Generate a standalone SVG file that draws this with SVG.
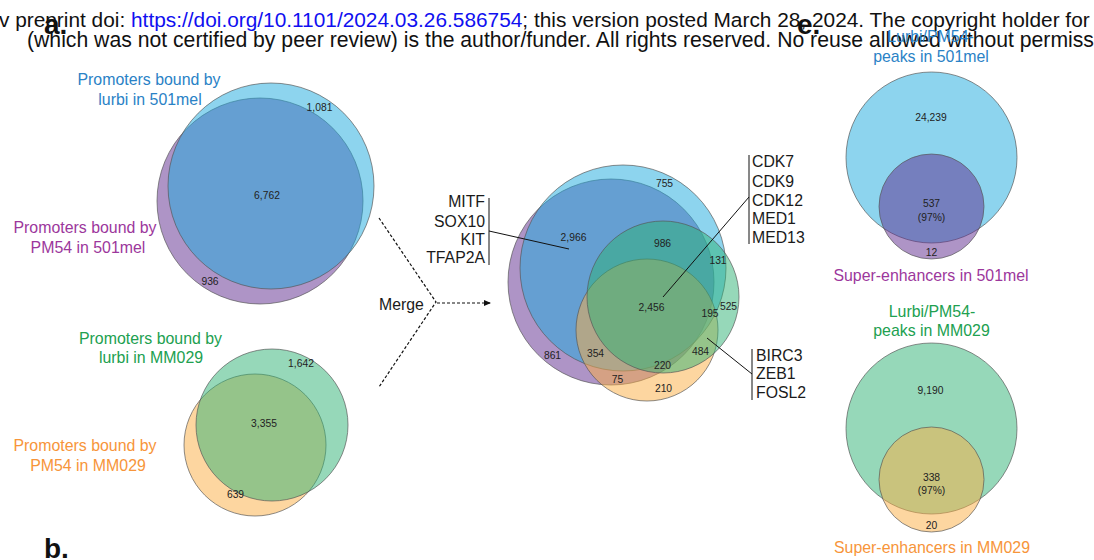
<svg xmlns="http://www.w3.org/2000/svg" width="1094" height="560" viewBox="0 0 1094 560">
  <style>
    .hdr { font-family: "Liberation Sans", Arial, sans-serif; font-size: 21px; fill: #111; }
    .link { fill: #1010f0; }
    .panel { font-family: "Liberation Sans", Arial, sans-serif; font-size: 28px; font-weight: bold; fill: #111; }
    .lbl { font-family: "Liberation Sans", Arial, sans-serif; font-size: 15.9px; text-anchor: middle; }
    .gene { font-family: "Liberation Sans", Arial, sans-serif; font-size: 15.8px; fill: #1a1a1a; }
    .num { font-family: "Liberation Sans", Arial, sans-serif; font-size: 10.3px; fill: #222; text-anchor: middle; }
    .c-blue { fill: #2a82c6; }
    .c-purple { fill: #9c379c; }
    .c-green { fill: #21a050; }
    .c-orange { fill: #f7953a; }
    .set { fill-opacity: 0.5; stroke: #555; stroke-opacity: 0.75; stroke-width: 0.9; }
    .s-blue { fill: #1ba9dd; }
    .s-purple { fill: #5d298d; }
    .s-green { fill: #2db173; }
    .s-orange { fill: #fbad41; }
    .lead { stroke: #111; stroke-width: 1; fill: none; }
    .dash { stroke: #111; stroke-width: 1.2; fill: none; stroke-dasharray: 3 2; }
  </style>
  <defs>
    <marker id="arrowhead" markerWidth="8" markerHeight="8" refX="7" refY="4" orient="auto" markerUnits="userSpaceOnUse">
      <path d="M0,1 L7,4 L0,7 Z" fill="#111"/>
    </marker>
  </defs>

  <rect width="1094" height="560" fill="#ffffff"/>

  <!-- preprint watermark header -->
  <g id="header">
    <text class="hdr" x="-59" y="26.5" style="font-size:20.85px">bioRxiv preprint doi: <tspan class="link">https://doi.org/10.1101/2024.03.26.586754</tspan>; this version posted March 28, 2024. The copyright holder for this preprint</text>
    <text class="hdr" x="27" y="47" style="font-size:21.2px">(which was not certified by peer review) is the author/funder. All rights reserved. No reuse allowed without permission.</text>
  </g>

  <!-- panel letters -->
  <text class="panel" x="44" y="33.5">a.</text>
  <text class="panel" x="797" y="33.5">e.</text>
  <text class="panel" x="44" y="558">b.</text>

  <!-- 501mel promoters -->
  <g id="venn-501mel-promoters">
    <circle class="set s-purple" cx="260" cy="201" r="103"/>
    <circle class="set s-blue" cx="271" cy="186" r="103"/>
    <text class="num" x="319.5" y="111">1,081</text>
    <text class="num" x="267" y="199">6,762</text>
    <text class="num" x="210" y="285">936</text>
    <text class="lbl c-blue" x="149" y="85">Promoters bound by</text>
    <text class="lbl c-blue" x="150" y="105">lurbi in 501mel</text>
    <text class="lbl c-purple" x="85" y="233">Promoters bound by</text>
    <text class="lbl c-purple" x="88" y="253">PM54 in 501mel</text>
  </g>

  <!-- MM029 promoters -->
  <g id="venn-mm029-promoters">
    <circle class="set s-orange" cx="255" cy="445" r="71"/>
    <circle class="set s-green" cx="272" cy="425" r="76"/>
    <text class="num" x="301" y="367">1,642</text>
    <text class="num" x="264" y="427">3,355</text>
    <text class="num" x="235.5" y="498">639</text>
    <text class="lbl c-green" x="150.5" y="344">Promoters bound by</text>
    <text class="lbl c-green" x="151" y="363">lurbi in MM029</text>
    <text class="lbl c-orange" x="85" y="451">Promoters bound by</text>
    <text class="lbl c-orange" x="88" y="471">PM54 in MM029</text>
  </g>

  <!-- merged four-set promoters -->
  <g id="venn-merged">
    <circle class="set s-purple" cx="611" cy="282" r="103"/>
    <circle class="set s-blue" cx="623" cy="268" r="103"/>
    <circle class="set s-orange" cx="647" cy="330" r="71"/>
    <circle class="set s-green" cx="663" cy="297" r="76"/>
    <text class="num" x="664.5" y="187">755</text>
    <text class="num" x="573.5" y="241">2,966</text>
    <text class="num" x="662.5" y="247">986</text>
    <text class="num" x="718" y="264">131</text>
    <text class="num" x="728.5" y="310">525</text>
    <text class="num" x="651.5" y="311">2,456</text>
    <text class="num" x="710" y="317">195</text>
    <text class="num" x="700.5" y="355">484</text>
    <text class="num" x="552.5" y="359">861</text>
    <text class="num" x="595.5" y="357">354</text>
    <text class="num" x="662.5" y="369">220</text>
    <text class="num" x="617.5" y="383">75</text>
    <text class="num" x="663.5" y="392">210</text>
  </g>

  <!-- gene call-outs -->
  <g id="genes-left">
    <text class="gene" x="485" y="207" text-anchor="end">MITF</text>
    <text class="gene" x="485" y="227" text-anchor="end">SOX10</text>
    <text class="gene" x="485" y="245" text-anchor="end">KIT</text>
    <text class="gene" x="485" y="263" text-anchor="end">TFAP2A</text>
  </g>
  <g id="genes-top-right">
    <text class="gene" x="752" y="167">CDK7</text>
    <text class="gene" x="752" y="187">CDK9</text>
    <text class="gene" x="752" y="206">CDK12</text>
    <text class="gene" x="752" y="224">MED1</text>
    <text class="gene" x="752" y="243">MED13</text>
  </g>
  <g id="genes-bottom-right">
    <text class="gene" x="756" y="361">BIRC3</text>
    <text class="gene" x="756" y="379">ZEB1</text>
    <text class="gene" x="756" y="398">FOSL2</text>
  </g>

  <!-- merge step -->
  <g id="merge">
    <text class="gene" x="379" y="310">Merge</text>
  </g>

  <!-- 501mel peaks vs super-enhancers -->
  <g id="venn-501mel-se">
    <circle class="set s-blue" cx="931.5" cy="157.5" r="85.5"/>
    <circle class="set s-purple" cx="931.5" cy="206.5" r="52.5"/>
    <text class="num" x="931" y="121">24,239</text>
    <text class="num" x="931.5" y="207">537</text>
    <text class="num" x="931.5" y="221">(97%)</text>
    <text class="num" x="931.5" y="256">12</text>
    <text class="lbl c-blue" x="930.5" y="42">Lurbi/PM54-</text>
    <text class="lbl c-blue" x="931" y="62">peaks in 501mel</text>
    <text class="lbl c-purple" x="931" y="281">Super-enhancers in 501mel</text>
  </g>

  <!-- MM029 peaks vs super-enhancers -->
  <g id="venn-mm029-se">
    <circle class="set s-green" cx="931.5" cy="428.5" r="85.5"/>
    <circle class="set s-orange" cx="931.5" cy="479.5" r="52.5"/>
    <text class="num" x="930.5" y="394">9,190</text>
    <text class="num" x="931.5" y="481">338</text>
    <text class="num" x="931.5" y="494">(97%)</text>
    <text class="num" x="931.5" y="529">20</text>
    <text class="lbl c-green" x="932" y="317">Lurbi/PM54-</text>
    <text class="lbl c-green" x="931.5" y="336">peaks in MM029</text>
    <text class="lbl c-orange" x="932" y="553">Super-enhancers in MM029</text>
  </g>

  <!-- connectors: merge arrows, brackets and leader lines -->
  <g id="connectors">
    <path class="dash" d="M379,218 L436,302 L379,387"/>
    <path class="dash" d="M437,303 L491,303" marker-end="url(#arrowhead)"/>
    <path class="lead" d="M489,198 V265"/>
    <path class="lead" d="M489,231 L569,249"/>
    <path class="lead" d="M749,155 V244"/>
    <path class="lead" d="M749,197 L663,297"/>
    <path class="lead" d="M752,349 V400"/>
    <path class="lead" d="M752,374 L707,338"/>
  </g>
</svg>
